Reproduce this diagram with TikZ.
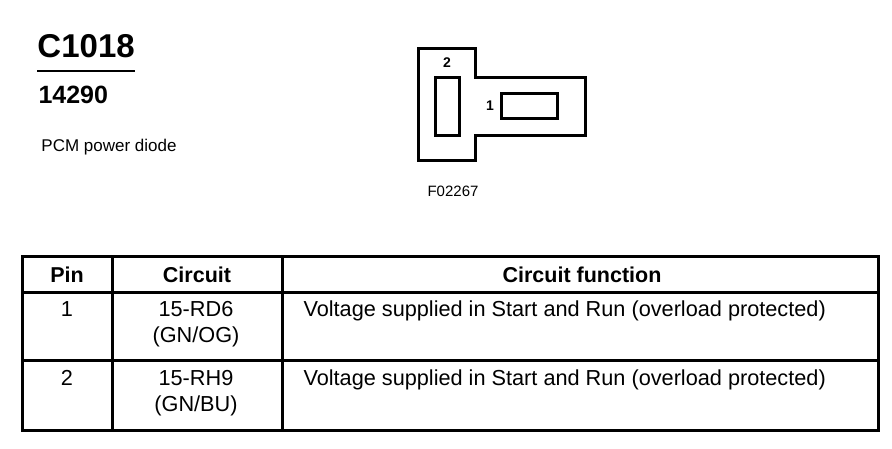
\documentclass[tikz,border=0pt]{standalone}
\usepackage{fontspec}
\setmainfont{Liberation Sans}
\usetikzlibrary{positioning}
\tikzset{
    x=1pt,y=-1pt,
    txt/.style ={inner sep=0pt, anchor=base, font=\fontsize{21.7}{25}\selectfont},
    hd/.style ={txt, font=\bfseries\fontsize{21.5}{25}\selectfont},
    cavity/.style ={rectangle, draw, inner sep=0pt},
    pinno/.style = {inner sep=0pt, font=\bfseries\fontsize{14}{16}\selectfont}
}

\begin{document}
\begin{tikzpicture}[line width=3pt]
        \useasboundingbox (0,0) rectangle (892,448);
        % title block
        \node[inner sep=0pt, anchor=base west, font=\bfseries\fontsize{33}{36}\selectfont] (conn) at (36,57) {C1018};
        \draw[line width=2.4pt] (37,71) -- (135,71);
        \node[inner sep=0pt, anchor=base west, font=\bfseries\fontsize{25}{28}\selectfont] (part) at (37,103) {14290};
        \node[inner sep=0pt, anchor=base west, font=\fontsize{17}{19}\selectfont] (desc) at (40,151) {PCM power diode};
        % connector face
        \draw (418,48) -- (475,48) -- (475,77) -- (585,77) -- (585,135) -- (475,135) -- (475,160) -- (418,160) -- cycle;
        \node[cavity, minimum width=24pt, minimum height=58pt] (pin2) at (447,106) {};
        \node[cavity, minimum width=56pt, minimum height=25pt] (pin1) at (529,105.5) {};
        \node[pinno] (2) [above =7pt of pin2] {2};
        \node[pinno] (1) [left =4pt of pin1] {1};
        \node[inner sep=0pt, anchor=base, font=\fontsize{15}{17}\selectfont] (fig) at (453,196) {F02267};
        % table
        \draw (22,256) rectangle (878,430);
        \draw (22,292) -- (878,292);
        \draw (22,360) -- (878,360);
        \draw (112,256) -- (112,430);
        \draw (282,256) -- (282,430);
        \node[hd] (h1) at (67,282) {Pin};
        \node[hd] (h2) at (197,282) {Circuit};
        \node[hd] (h3) at (582,282) {Circuit function};
        \node[txt] (p1) at (67,316) {1};
        \node[txt] (c1) at (196,316) {15-RD6};
        \node[txt] (w1) at (196,342) {(GN/OG)};
        \node[txt, anchor=base west] (f1) at (302,316) {Voltage supplied in Start and Run (overload protected)};
        \node[txt] (p2) at (67,385) {2};
        \node[txt] (c2) at (196,385) {15-RH9};
        \node[txt] (w2) at (196,411) {(GN/BU)};
        \node[txt, anchor=base west] (f2) at (302,385) {Voltage supplied in Start and Run (overload protected)};

    \end{tikzpicture}
\end{document}
